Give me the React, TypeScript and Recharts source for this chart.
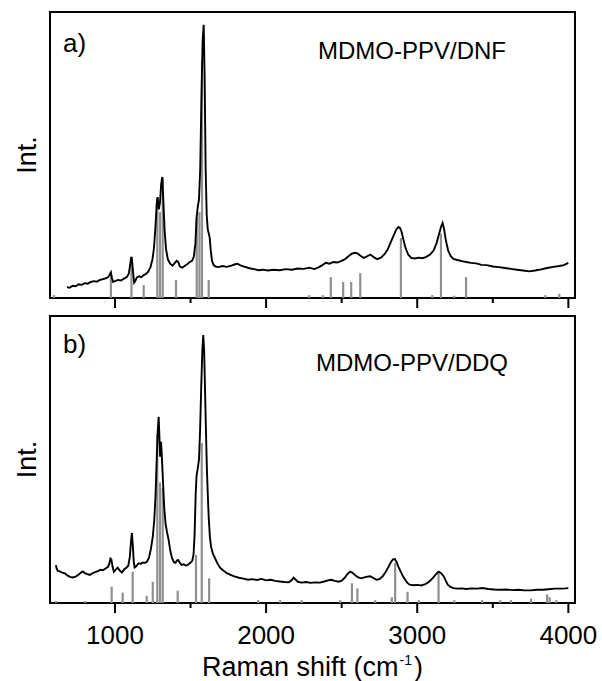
import React from 'react';
import {
  ComposedChart,
  Line,
  XAxis,
  YAxis,
  ReferenceLine,
  ReferenceArea,
} from 'recharts';

// shared x axis (Raman shift, cm-1)
const xTicks = [1000, 1500, 2000, 2500, 3000, 3500, 4000];
const xDomain = [570, 4044];

// a) MDMO-PPV/DNF measured spectrum
const shiftA = [
  682, 700, 720, 740, 760, 780, 800, 820, 840, 860,
  880, 900, 920, 940, 955, 965, 973, 980, 988, 1000,
  1020, 1040, 1060, 1080, 1092, 1100, 1106, 1110, 1115, 1120,
  1127, 1135, 1145, 1160, 1175, 1190, 1205, 1220, 1235, 1248,
  1258, 1268, 1276, 1282, 1290, 1298, 1306, 1313, 1320, 1328,
  1338, 1350, 1365, 1380, 1395, 1408, 1418, 1430, 1445, 1460,
  1478, 1495, 1510, 1522, 1532, 1540, 1548, 1556, 1564, 1572,
  1580, 1587, 1593, 1600, 1607, 1614, 1621, 1627, 1634, 1642,
  1652, 1665, 1685, 1710, 1740, 1770, 1795, 1810, 1830, 1860,
  1890, 1920, 1950, 1980, 2010, 2050, 2090, 2130, 2170, 2210,
  2250, 2285, 2320, 2350, 2375, 2395, 2420, 2445, 2470, 2495,
  2520, 2545, 2565, 2585, 2605, 2625, 2645, 2665, 2690, 2712,
  2735, 2760, 2785, 2805, 2825, 2845, 2862, 2876, 2886, 2896,
  2908, 2922, 2940, 2960, 2985, 3010, 3035, 3060, 3085, 3108,
  3128, 3145, 3158, 3168, 3178, 3190, 3205, 3222, 3240, 3265,
  3295, 3325, 3355, 3390, 3425, 3460, 3500, 3540, 3580, 3620,
  3660, 3700, 3740, 3780, 3820, 3860, 3900, 3940, 3970, 4000,
];
const intensityA = [
  3.8, 3.6, 4.3, 4.1, 4.8, 4.6, 5.2, 5.0, 5.6, 5.9,
  5.7, 6.3, 6.6, 6.9, 7.3, 8.2, 9.0, 7.0, 5.6, 5.9,
  6.3, 6.1, 6.8, 7.4, 8.6, 11.5, 13.8, 14.4, 12.0, 8.8,
  5.4, 6.0, 7.2, 7.6, 7.3, 8.0, 8.4, 9.2, 10.8, 13.5,
  17.5, 25.0, 33.0, 35.3, 31.0, 33.5, 40.0, 42.3, 34.0, 24.0,
  17.0, 13.5, 12.0, 11.3, 12.2, 13.0, 12.6, 11.0, 10.6, 11.2,
  11.8, 12.6, 13.0, 14.5, 19.0, 28.0, 32.0, 34.5, 45.0, 70.0,
  90.0, 95.5, 78.0, 45.0, 29.0, 24.0, 22.5, 21.0, 16.5, 13.0,
  11.6, 11.0, 10.8, 11.2, 10.9, 11.3, 11.8, 12.0, 11.4, 10.9,
  10.4, 10.1, 9.7, 9.9, 9.6, 9.9, 9.7, 10.1, 9.9, 10.3,
  10.2, 10.6, 10.1, 10.8, 11.6, 12.3, 12.0, 12.6, 12.4, 12.9,
  13.5, 14.6, 15.4, 15.8, 15.6, 14.8, 14.0, 14.5, 15.2, 14.3,
  13.6, 14.1, 15.4, 17.0, 19.5, 22.0, 24.0, 24.8, 24.5, 23.2,
  20.5, 17.6, 15.2, 14.0, 13.8, 14.1, 13.9, 14.4, 15.2, 16.6,
  19.2, 22.5, 25.0, 26.2, 24.0, 20.0, 16.5, 14.6, 13.7, 13.3,
  12.9, 12.6, 12.3, 12.1, 11.6, 11.5, 11.0, 10.8, 10.5, 10.2,
  9.9, 9.6, 9.3, 9.6, 10.0, 10.5, 10.9, 11.2, 11.5, 12.3,
];
// a) calculated modes (grey sticks)
const stickShiftA = [
  596, 973, 1109, 1190, 1280, 1298, 1316, 1404, 1541, 1559,
  1576, 1620, 2285, 2375, 2428, 2510, 2563, 2623, 2892, 3099,
  3157, 3245, 3323, 3848, 3940,
];
const stickHeightA = [
  1, 8.7, 14.3, 4.5, 35, 30, 42, 6.3, 28, 30,
  83, 6.3, 1, 1, 7.3, 5.6, 5.6, 8.7, 21, 1,
  22.5, 0.8, 7.3, 1, 1.5,
];

// b) MDMO-PPV/DDQ measured spectrum
const shiftB = [
  609, 614, 622, 635, 650, 669, 685, 702, 720, 740,
  760, 775, 788, 800, 815, 834, 850, 870, 890, 905,
  920, 940, 954, 963, 970, 976, 984, 993, 1005, 1018,
  1030, 1046, 1060, 1075, 1088, 1098, 1106, 1112, 1118, 1124,
  1130, 1140, 1155, 1170, 1185, 1200, 1212, 1225, 1238, 1250,
  1260, 1268, 1276, 1283, 1289, 1294, 1299, 1305, 1310, 1318,
  1326, 1335, 1345, 1355, 1365, 1377, 1390, 1400, 1410, 1418,
  1428, 1440, 1455, 1470, 1485, 1500, 1512, 1520, 1527, 1534,
  1540, 1548, 1556, 1563, 1570, 1578, 1584, 1590, 1596, 1602,
  1608, 1614, 1620, 1628, 1636, 1648, 1662, 1678, 1695, 1715,
  1740, 1765, 1790, 1820, 1850, 1880, 1910, 1940, 1970, 2000,
  2030, 2060, 2090, 2120, 2150, 2170, 2182, 2195, 2210, 2235,
  2265, 2295, 2325, 2355, 2385, 2410, 2430, 2455, 2480, 2500,
  2520, 2540, 2556, 2570, 2590, 2610, 2630, 2650, 2670, 2690,
  2710, 2730, 2750, 2770, 2790, 2808, 2825, 2840, 2852, 2864,
  2876, 2890, 2905, 2920, 2935, 2950, 2975, 3000, 3025, 3050,
  3070, 3090, 3108, 3125, 3140, 3152, 3165, 3178, 3190, 3202,
  3220, 3240, 3265, 3295, 3325, 3360, 3395, 3430, 3470, 3510,
  3550, 3590, 3630, 3670, 3710, 3750, 3790, 3830, 3870, 3910,
  3950, 3980, 4000,
];
const intensityB = [
  13.2, 12.0, 11.2, 11.0, 10.6, 10.3, 9.6, 9.1, 8.9, 9.2,
  9.9, 10.6, 11.0, 10.4, 10.1, 9.8, 10.3, 10.8, 11.2, 11.6,
  11.4, 12.1, 12.6, 13.8, 15.5, 15.2, 12.6, 10.9, 11.6, 12.3,
  11.4, 10.6, 11.7, 12.3, 13.0, 16.0, 21.5, 24.4, 20.0, 14.5,
  12.4, 12.8, 13.8, 13.7, 14.1, 14.0, 14.4, 15.8, 19.0, 23.0,
  29.0, 37.0, 50.0, 60.0, 64.9, 58.0, 51.0, 56.2, 51.0, 42.0,
  33.0, 27.5, 24.5, 22.0, 18.5, 15.7, 14.2, 14.0, 14.8, 15.0,
  14.1, 13.3, 13.5, 13.0, 13.4, 14.1, 14.8, 17.0, 24.0, 38.0,
  44.5, 47.0, 50.0, 60.0, 74.0, 88.0, 93.4, 88.0, 74.0, 60.0,
  47.0, 38.0, 30.0, 23.0, 19.5, 17.2, 15.6, 13.8, 12.3, 11.4,
  10.4, 9.8, 9.3, 8.8, 8.5, 8.1, 8.3, 8.0, 8.4, 7.9,
  8.1, 7.7, 7.5, 7.3, 7.2, 8.0, 8.8, 8.2, 7.4, 7.1,
  7.3, 7.0, 7.2, 7.1, 7.5, 7.9, 8.1, 7.7, 7.4, 7.8,
  8.8, 10.2, 10.9, 10.6, 9.7, 8.9, 8.6, 8.9, 9.2, 9.3,
  8.7, 8.1, 8.3, 9.2, 10.7, 12.4, 14.2, 15.2, 15.3, 14.2,
  12.6, 11.0, 9.4, 8.1, 7.0, 6.4, 6.2, 6.3, 6.1, 6.5,
  7.1, 8.0, 9.0, 10.1, 10.9, 10.6, 10.0, 9.0, 7.6, 6.4,
  5.6, 5.2, 5.0, 5.1, 4.9, 5.1, 5.0, 5.2, 4.9, 4.7,
  4.6, 4.7, 4.5, 4.6, 4.4, 4.4, 4.6, 4.6, 4.8, 5.0,
  5.0, 5.1, 5.2,
];
// b) calculated modes (grey sticks)
const stickShiftB = [
  609, 801, 978, 1051, 1117, 1210, 1250, 1280, 1298, 1316,
  1415, 1536, 1574, 1623, 1947, 2093, 2236, 2490, 2568, 2604,
  2722, 2832, 2854, 2936, 3011, 3141, 3245, 3429, 3550, 3620,
  3753, 3859, 3876, 3921,
];
const stickHeightB = [
  0.7, 0.7, 5.7, 3.6, 10.9, 2.5, 7.4, 59, 42, 40,
  4.3, 16.7, 55.7, 8.6, 1, 1, 1, 1, 6.9, 5.1,
  1, 2, 14, 3.9, 1, 10.9, 1, 1, 1, 1,
  1.5, 3, 2, 1,
];

const FONT = 'Arial, "Liberation Sans", Helvetica, sans-serif';
const MAJOR_TICK = 10;
const MINOR_TICK = 5;
const TICK_MARGIN = 13;

// draws long ticks at thousands, short ones in between, labels optional
const AxisTick = (props: any) => {
  const { x, y, payload, showLabel } = props;
  const axisY = y - TICK_MARGIN - MAJOR_TICK;
  const major = payload.value % 1000 === 0;
  return (
    <g>
      <line
        x1={x}
        x2={x}
        y1={axisY}
        y2={axisY + (major ? MAJOR_TICK : MINOR_TICK)}
        stroke="#000"
        strokeWidth={2}
      />
      {showLabel && major && (
        <text x={x} y={y} dy="0.71em" textAnchor="middle" fontFamily={FONT} fontSize={26} fill="#000">
          {payload.value}
        </text>
      )}
    </g>
  );
};

const renderXTitle = ({ viewBox }: any) => (
  <text
    x={viewBox.x + viewBox.width / 2}
    y={viewBox.y + 73}
    textAnchor="middle"
    fontFamily={FONT}
    fontSize={27}
    fill="#000"
  >
    <tspan>Raman shift (cm</tspan>
    <tspan dx={1} dy={-11} fontSize={14}>-1</tspan>
    <tspan dx={2} dy={11}>)</tspan>
  </text>
);

interface PanelProps {
  shifts: number[];
  intensities: number[];
  stickShifts: number[];
  stickHeights: number[];
  letter: string;
  sample: string;
  top: number;
  height: number;
  marginTop: number;
  axisHeight: number;
  showLabels: boolean;
  letterY: number;
  sampleX: number;
  sampleY: number;
}

const SpectrumPanel: React.FC<PanelProps> = ({
  shifts,
  intensities,
  stickShifts,
  stickHeights,
  letter,
  sample,
  top,
  height,
  marginTop,
  axisHeight,
  showLabels,
  letterY,
  sampleX,
  sampleY,
}) => {
  const data = shifts.map((w, i) => ({ w, v: intensities[i] }));

  // panel letter, sample name and the rotated "Int." title, placed off the plot box
  const renderCaption = ({ viewBox }: any) => {
    const bx = viewBox.x - 14;
    const cy = viewBox.y + viewBox.height / 2;
    return (
      <g fontFamily={FONT} fill="#000">
        <text x={viewBox.x + 13} y={viewBox.y + letterY} fontSize={26}>
          {letter}
        </text>
        <text x={viewBox.x + sampleX} y={viewBox.y + sampleY} fontSize={24}>
          {sample}
        </text>
        <text
          x={bx}
          y={cy}
          transform={`rotate(-90, ${bx}, ${cy})`}
          textAnchor="middle"
          fontSize={27}
        >
          Int.
        </text>
      </g>
    );
  };

  return (
    <div style={{ position: 'absolute', left: 0, top }}>
      <ComposedChart
        width={602}
        height={height}
        data={data}
        margin={{ top: marginTop, right: 27, bottom: 0, left: 50 }}
      >
        <XAxis
          dataKey="w"
          type="number"
          domain={xDomain}
          ticks={xTicks}
          interval={0}
          allowDataOverflow
          height={axisHeight}
          axisLine={false}
          tickLine={false}
          tickSize={MAJOR_TICK}
          tickMargin={TICK_MARGIN}
          tick={<AxisTick showLabel={showLabels} />}
          label={showLabels ? { content: renderXTitle } : undefined}
        />
        <YAxis
          type="number"
          domain={[0, 100]}
          width={0}
          tick={false}
          axisLine={false}
          tickLine={false}
        />
        {stickShifts.map((w, i) => (
          <ReferenceLine
            key={`stick-${i}`}
            segment={[
              { x: w, y: 0 },
              { x: w, y: stickHeights[i] },
            ]}
            stroke="#8f8f8f"
            strokeWidth={2.2}
          />
        ))}
        <Line
          type="linear"
          dataKey="v"
          stroke="#000"
          strokeWidth={1.9}
          dot={false}
          activeDot={false}
          isAnimationActive={false}
        />
        <ReferenceArea
          x1={xDomain[0]}
          x2={xDomain[1]}
          y1={0}
          y2={100}
          fill="none"
          fillOpacity={0}
          stroke="#000"
          strokeWidth={2}
          ifOverflow="visible"
          label={{ content: renderCaption }}
        />
      </ComposedChart>
    </div>
  );
};

export default function App() {
  return (
    <div style={{ position: 'absolute', left: 0, top: 0, width: 602, height: 681, background: '#fff' }}>
      <SpectrumPanel
        shifts={shiftA}
        intensities={intensityA}
        stickShifts={stickShiftA}
        stickHeights={stickHeightA}
        letter="a)"
        sample="MDMO-PPV/DNF"
        top={0}
        height={310}
        marginTop={12}
        axisHeight={12}
        showLabels={false}
        letterY={40}
        sampleX={268}
        sampleY={47}
      />
      <SpectrumPanel
        shifts={shiftB}
        intensities={intensityB}
        stickShifts={stickShiftB}
        stickHeights={stickHeightB}
        letter="b)"
        sample="MDMO-PPV/DDQ"
        top={300}
        height={381}
        marginTop={16}
        axisHeight={78}
        showLabels={true}
        letterY={37}
        sampleX={266}
        sampleY={55}
      />
    </div>
  );
}
